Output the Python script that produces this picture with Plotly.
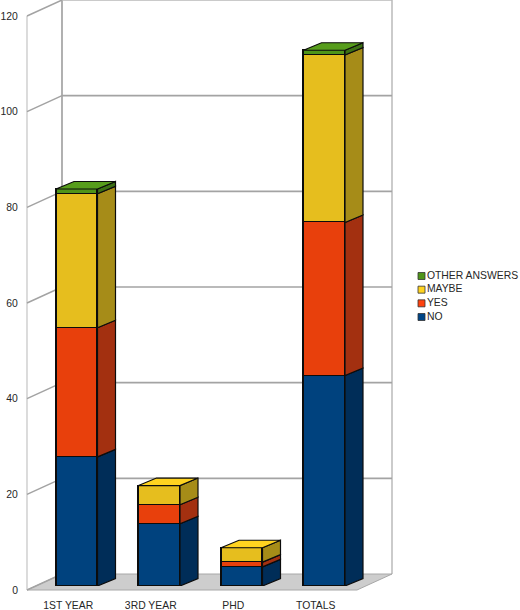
import plotly.graph_objects as go

categories = ["1ST YEAR", "3RD YEAR", "PHD", "TOTALS"]
no_values = [27, 13, 4, 44]
yes_values = [27, 4, 1, 32]
maybe_values = [28, 4, 3, 35]
other_values = [1, 0, 0, 1]
tick_values = [0, 20, 40, 60, 80, 100, 120]

series_names = ["NO", "YES", "MAYBE", "OTHER ANSWERS"]
series_values = [no_values, yes_values, maybe_values, other_values]
front_colors = ["#00427e", "#e8400c", "#e6be1e", "#4f9419"]
side_colors = ["#002d58", "#a33010", "#a68c18", "#3c7014"]
top_colors = ["#004586", "#ff420e", "#ffd320", "#579d1c"]
legend_colors = ["#4f9419", "#ffd320", "#ff420e", "#004586"][::-1]

W, H = 520, 610
CAT_PX = 82.5
VAL_PX = 574 / 120
BAR_WIDTH = 0.503
FONT = "Liberation Sans"
TEXT = "#262626"
GRID = "#a3a3a3"


def px_x(p):
    return p / W


def px_y(p):
    return 1 - p / H


# wall / floor depth and bar depth, in data units
wall_dx, wall_dy = 35 / CAT_PX, 16 / VAL_PX
bar_dx, bar_dy = 18 / CAT_PX, 7.5 / VAL_PX
n = len(categories)
x_lo, x_hi = -0.5, n - 0.5
top_tick = tick_values[-1]

fig = go.Figure()


def wall_line(xs, ys, color=GRID, width=1.5):
    fig.add_trace(go.Scatter(x=xs, y=ys, mode="lines", xaxis="x", yaxis="y",
                             line=dict(color=color, width=width),
                             hoverinfo="skip", showlegend=False))


# floor
fig.add_trace(go.Scatter(
    x=[x_lo, x_hi, x_hi + wall_dx, x_lo + wall_dx, x_lo],
    y=[0, 0, wall_dy, wall_dy, 0], mode="lines", fill="toself",
    fillcolor="#cdcdcd", line=dict(color="#a8a8a8", width=1),
    xaxis="x", yaxis="y", hoverinfo="skip", showlegend=False))

# walls and grid
wall_line([x_lo, x_lo], [0, top_tick], "#c4c4c4", 1.2)
wall_line([x_lo + wall_dx, x_lo + wall_dx], [wall_dy, top_tick + wall_dy], "#9d9d9d", 1.6)
wall_line([x_hi + wall_dx, x_hi + wall_dx], [wall_dy, top_tick + wall_dy], "#a8a8a8", 1.2)
for t in tick_values:
    wall_line([x_lo, x_lo + wall_dx], [t, t + wall_dy])
    if t > 0:
        wall_line([x_lo + wall_dx, x_hi + wall_dx], [t + wall_dy, t + wall_dy],
                  "#b9b9b9" if t == top_tick else GRID, 1.6)

# front faces
for name, vals, col in zip(series_names, series_values, front_colors):
    fig.add_trace(go.Bar(x=list(range(n)), y=vals, name=name, width=BAR_WIDTH,
                         marker=dict(color=col, line=dict(color="#0c0c0c", width=1.2)),
                         xaxis="x2", yaxis="y2", showlegend=False))

# side and top faces, worked out from the stacked values
bases = [0] * n
tops = [sum(v[i] for v in series_values) for i in range(n)]
for vals, side, top in zip(series_values, side_colors, top_colors):
    sx, sy, tx, ty = [], [], [], []
    for i, v in enumerate(vals):
        if v == 0:
            continue
        b, t = bases[i], bases[i] + v
        r = i + BAR_WIDTH / 2
        l = i - BAR_WIDTH / 2
        sx += [r, r + bar_dx, r + bar_dx, r, r, None]
        sy += [b, b + bar_dy, t + bar_dy, t, b, None]
        if t == tops[i]:
            tx += [l, r, r + bar_dx, l + bar_dx, l, None]
            ty += [t, t, t + bar_dy, t + bar_dy, t, None]
    for xs, ys, col in ((sx, sy, side), (tx, ty, top)):
        if xs:
            fig.add_trace(go.Scatter(x=xs, y=ys, mode="lines", fill="toself", fillcolor=col,
                                     line=dict(color="#0c0c0c", width=1.2),
                                     xaxis="x2", yaxis="y2", hoverinfo="skip", showlegend=False))
    bases = [a + c for a, c in zip(bases, vals)]

# key, drawn as markers and text so its 14px row pitch can be kept
fig.add_trace(go.Scatter(
    x=[0] * len(series_names), y=list(range(len(series_names))),
    mode="markers+text", text=series_names, textposition="middle right",
    textfont=dict(family=FONT, size=10.4, color=TEXT),
    marker=dict(symbol="square", size=7, color=legend_colors, line=dict(color="#333333", width=0.8)),
    xaxis="x3", yaxis="y3", cliponaxis=False, hoverinfo="skip", showlegend=False))

hidden = dict(visible=False, fixedrange=True, automargin=False)
tick_font = dict(family=FONT, size=10.4, color=TEXT)
pad_x, pad_y = 4, 3   # spare pixels round the walls so their edge lines are not clipped
fig.update_layout(
    template="none",
    width=W, height=H, margin=dict(l=0, r=0, t=0, b=0, pad=0, autoexpand=False),
    paper_bgcolor="white", plot_bgcolor="rgba(0,0,0,0)",
    barmode="stack", bargap=0, showlegend=False,
    font=tick_font,
    xaxis=dict(domain=[px_x(27 - pad_x), px_x(391 + pad_x)],
               range=[x_lo - pad_x / CAT_PX, x_lo + (364 + pad_x) / CAT_PX],
               tickmode="array", tickvals=list(range(n)), ticktext=categories, tickfont=tick_font,
               showgrid=False, zeroline=False, showline=False, ticks="outside",
               ticklen=3, tickcolor="rgba(0,0,0,0)", anchor="y", fixedrange=True, automargin=False),
    yaxis=dict(domain=[px_y(590 + pad_y), px_y(0)],
               range=[-pad_y / VAL_PX, 590 / VAL_PX],
               tickmode="array", tickvals=tick_values, tickfont=tick_font,
               showgrid=False, zeroline=False, showline=False, ticks="outside",
               ticklen=2, tickcolor="rgba(0,0,0,0)", anchor="x", fixedrange=True, automargin=False),
    xaxis2=dict(domain=[px_x(35.5), px_x(365.5)], range=[x_lo, x_hi], anchor="y2", **hidden),
    yaxis2=dict(domain=[px_y(586), px_y(12)], range=[0, top_tick], anchor="x2", **hidden),
    xaxis3=dict(domain=[px_x(421.5), px_x(520)], range=[0, 98.5], anchor="y3", **hidden),
    yaxis3=dict(domain=[px_y(317), px_y(276)], range=[0, 3], anchor="x3", **hidden),
)

fig.write_html("out.html", config=dict(displayModeBar=False),
               post_script="document.body.style.margin='0';")
